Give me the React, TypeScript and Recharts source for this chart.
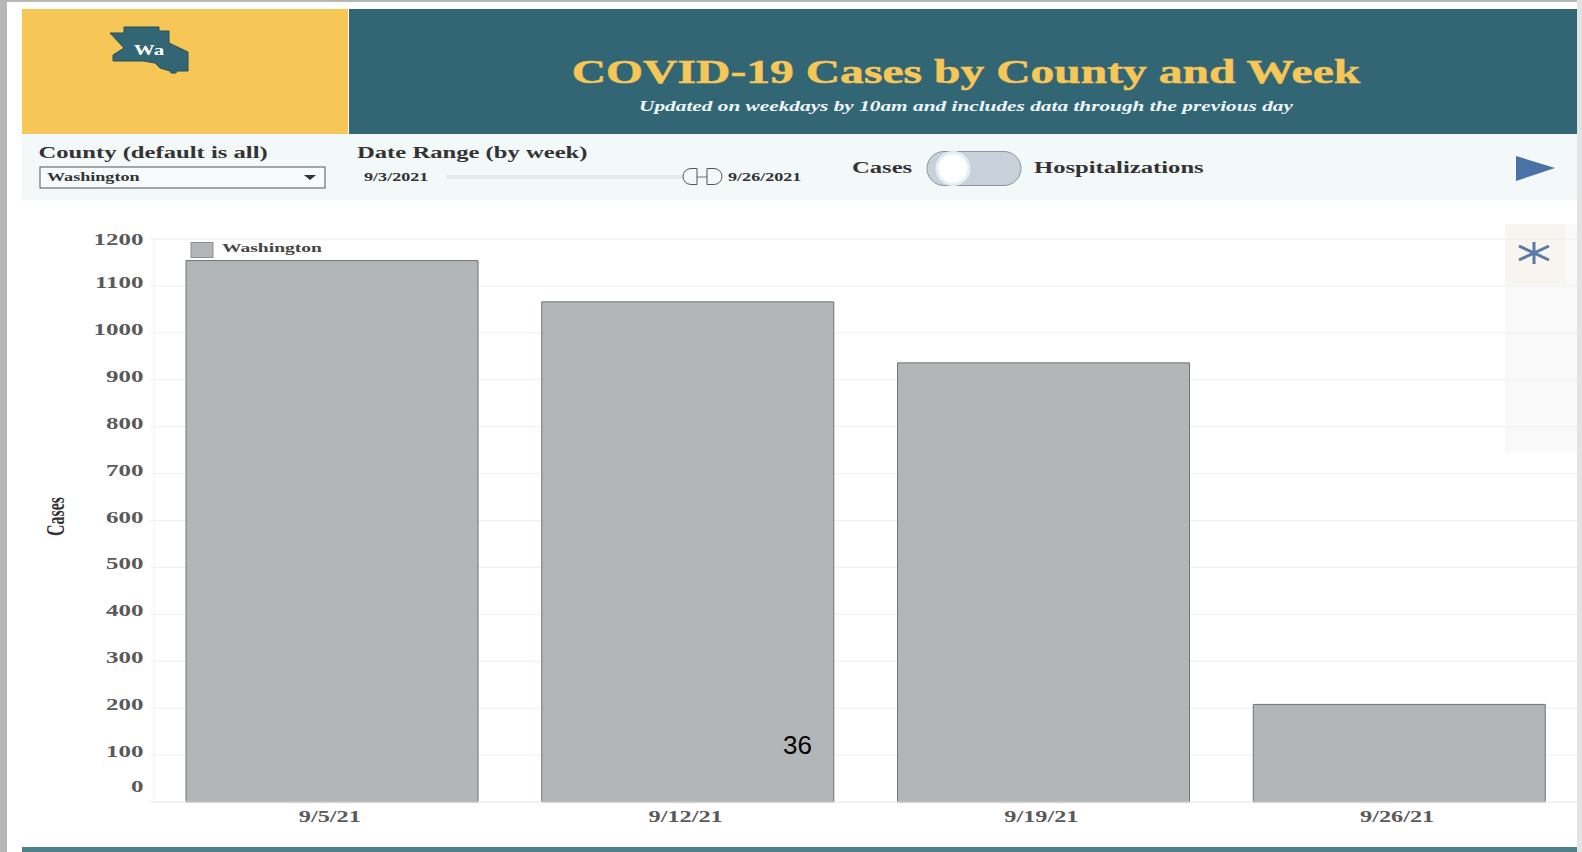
import React from "react";
import { BarChart, Bar, XAxis, YAxis, CartesianGrid, Legend } from "recharts";

const weeks = ["9/5/21", "9/12/21", "9/19/21", "9/26/21"];
const cases = [1154, 1066, 936, 208];
const yTicks = [0, 100, 200, 300, 400, 500, 600, 700, 800, 900, 1000, 1100, 1200];
const seriesName = "Washington";

const rows = weeks.map((week, i) => ({ week, cases: cases[i] }));

const SERIF = "'Liberation Serif', serif";
const TEAL = "#336675";
const GOLD = "#f6c657";

type WideProps = {
  x: number;
  y: number;
  size: number;
  sx?: number;
  fill?: string;
  anchor?: "start" | "middle" | "end";
  italic?: boolean;
  heavy?: number;
  children: React.ReactNode;
};

// Bold serif text stretched horizontally around its anchor point.
function Wide({ x, y, size, sx = 1.45, fill = "#333", anchor = "start", italic, heavy, children }: WideProps) {
  return (
    <text
      transform={`translate(${x},${y}) scale(${sx},1)`}
      fontFamily={SERIF}
      fontWeight="bold"
      fontStyle={italic ? "italic" : "normal"}
      fontSize={size}
      fill={fill}
      stroke={heavy ? fill : undefined}
      strokeWidth={heavy}
      textAnchor={anchor}
    >
      {children}
    </text>
  );
}

function YTick({ x, y, payload }: any) {
  const nudge = payload.value === 0 ? -10 : payload.value === 1200 ? 6 : 2;
  return (
    <Wide x={x - 4.5} y={y + nudge} size={17} sx={1.47} fill="#5a5a5a" anchor="end">
      {payload.value}
    </Wide>
  );
}

function XTick({ x, y, payload }: any) {
  return (
    <Wide x={x - 2} y={y + 12} size={17} sx={1.43} fill="#5a5a5a" anchor="middle">
      {payload.value}
    </Wide>
  );
}

function SeriesKey() {
  return (
    <svg width={140} height={20} style={{ display: "block" }}>
      <rect x={1} y={1.5} width={22} height={15} fill="#b2b6b7" stroke="#8b8f90" />
      <Wide x={32} y={11} size={13.5} fill="#444">
        {seriesName}
      </Wide>
    </svg>
  );
}

function Furniture() {
  return (
    <svg width={1582} height={852} style={{ position: "absolute", left: 0, top: 0 }}>
      <rect width={1582} height={852} fill="#ffffff" />
      <rect width={1582} height={2} fill="#b7b7b7" />
      <rect width={7} height={852} fill="#b7b7b7" />
      <rect x={1577} y={0} width={5} height={852} fill="#e3e3e3" />

      <rect x={22} y={9} width={326} height={125} fill={GOLD} />
      <rect x={349} y={9} width={1228} height={125} fill={TEAL} />
      <rect x={22} y={134} width={1555} height={66} fill="#f3f8f9" />
      <rect x={22} y={847} width={1555} height={5} fill="#4f7f88" />

      <polygon
        points="110,33 124,33 124,27 159,27 159,31 169,31 169,43 188,52 188,71 177,71 176,73 171,73 170,71 160,68 155,63 143,61 113,61 113,55 124,48"
        fill={TEAL}
        stroke="#25505c"
      />
      <Wide x={149} y={55} size={14} sx={1.5} fill="#ffffff" anchor="middle">Wa</Wide>

      <Wide x={966} y={83} size={34} sx={1.4} fill={GOLD} anchor="middle" heavy={0.5}>
        COVID-19 Cases by County and Week
      </Wide>
      <Wide x={966} y={111} size={14.5} sx={1.47} fill="#eef6f8" anchor="middle" italic>
        Updated on weekdays by 10am and includes data through the previous day
      </Wide>

      <Wide x={38.5} y={158} size={17}>County (default is all)</Wide>
      <rect x={40} y={167} width={285} height={21} fill="#f7fbfc" stroke="#555" />
      <Wide x={47} y={181} size={12.5}>Washington</Wide>
      <polygon points="304,175 316,175 310,180" fill="#333" />

      <Wide x={357} y={158} size={17}>Date Range (by week)</Wide>
      <Wide x={364} y={181} size={12.5}>9/3/2021</Wide>
      <rect x={447} y={175} width={236} height={4} fill="#e6e9ea" />
      <line x1={697} y1={177} x2={707} y2={177} stroke="#9aa0a2" strokeWidth={1.5} />
      <path d="M 697 168.5 h -6 a 8 8 0 0 0 0 16 h 6 z" fill="#f3f8f9" stroke="#555" />
      <path d="M 707 168.5 h 7 a 8 8 0 0 1 0 16 h -7 z" fill="#f3f8f9" stroke="#555" />
      <Wide x={728} y={181} size={12.5}>9/26/2021</Wide>

      <Wide x={852} y={173} size={17}>Cases</Wide>
      <rect x={927} y={151.5} width={94} height={34} rx={17} fill="#c8d0da" stroke="#8d969e" />
      <circle cx={953} cy={168.5} r={17.5} fill="#e2eef6" />
      <circle cx={953} cy={168.5} r={14.5} fill="#ffffff" />
      <Wide x={1034} y={173} size={17}>Hospitalizations</Wide>
      <polygon points="1516,156 1555,168 1516,181" fill="#4a72a6" />

      <rect x={1505} y={224} width={72} height={228} fill="#f9f9f9" />
      <rect x={1505} y={224} width={60} height={60} fill="#f8f5f1" />
      <path
        d="M 1534 242 V 264 M 1519 246 L 1549 260 M 1519 260 L 1549 246"
        stroke="#5a7ba8"
        strokeWidth={3}
        fill="none"
      />

      <g transform="translate(63.5,516.5) rotate(-90) scale(0.64,1)">
        <text fontFamily={SERIF} fontWeight="bold" fontSize={25} fill="#333" textAnchor="middle">
          Cases
        </text>
      </g>
    </svg>
  );
}

export default function App() {
  return (
    <div style={{ position: "absolute", left: 0, top: 0, width: 1582, height: 852, overflow: "hidden" }}>
      <Furniture />
      <div style={{ position: "absolute", left: 0, top: 0 }}>
        <BarChart
          width={1582}
          height={852}
          data={rows}
          margin={{ top: 239, right: 5, bottom: 20, left: 74 }}
          barCategoryGap="9%"
        >
          <CartesianGrid vertical={false} stroke="#eeeeee" />
          <XAxis
            dataKey="week"
            height={30}
            axisLine={{ stroke: "#eeeeee" }}
            tickLine={false}
            tick={<XTick />}
            interval={0}
          />
          <YAxis
            width={80}
            domain={[0, 1200]}
            ticks={yTicks}
            interval={0}
            axisLine={{ stroke: "#f0f0f0" }}
            tickLine={{ stroke: "#eeeeee" }}
            tickSize={4}
            tick={<YTick />}
          />
          <Legend
            layout="vertical"
            verticalAlign="middle"
            align="center"
            wrapperStyle={{ left: 190, top: 241, width: 140 }}
            content={() => <SeriesKey />}
          />
          <Bar
            dataKey="cases"
            name={seriesName}
            fill="#b2b6b7"
            stroke="#6f7375"
            strokeWidth={1}
            isAnimationActive={false}
          />
        </BarChart>
      </div>
      <div
        style={{
          position: "absolute",
          left: 783,
          top: 730,
          fontFamily: "'Liberation Sans', sans-serif",
          fontSize: 26,
          lineHeight: "30px",
          color: "#000",
        }}
      >
        36
      </div>
    </div>
  );
}
